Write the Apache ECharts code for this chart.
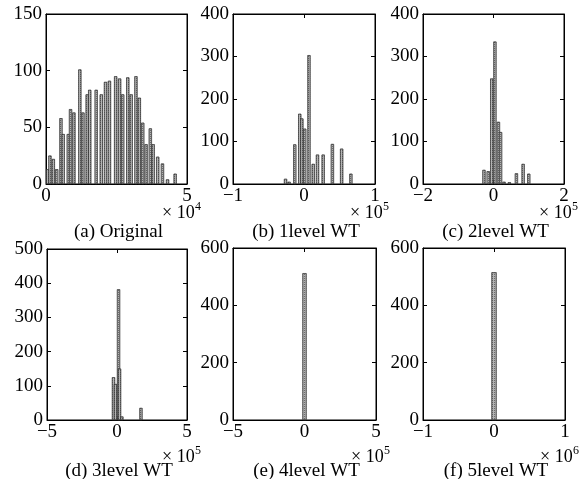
<!DOCTYPE html>
<html><head><meta charset="utf-8">
<script src="https://cdn.jsdelivr.net/npm/echarts@6/dist/echarts.min.js"></script>
<style>html,body{margin:0;padding:0;background:#fff}#c{width:580px;height:479px}</style>
</head><body><div id="c"></div>
<script>
// Histogram data: [bin centre (in units of 10^exp), count]
const histA = [[0.06,13],[0.14,25],[0.26,22],[0.38,13],[0.53,58],[0.61,44],[0.79,44],[0.87,66],[0.99,63],[1.20,101],[1.31,63],[1.46,79],[1.55,83],[1.78,83],[1.96,79],[2.11,90],[2.25,91],[2.47,95],[2.61,93],[2.72,79],[2.90,94],[3.02,79],[3.19,95],[3.31,76],[3.43,54],[3.55,35],[3.70,49],[3.80,35],[3.96,24],[4.13,18],[4.31,4],[4.58,9]];
const histB = [[-0.26,12],[-0.21,5],[-0.13,93],[-0.06,165],[-0.03,154],[0.01,130],[0.07,303],[0.13,47],[0.19,69],[0.27,69],[0.40,94],[0.53,83],[0.66,24]];
const histC = [[-0.27,33],[-0.15,30],[-0.05,248],[0.04,335],[0.14,146],[0.20,122],[0.30,5],[0.45,4],[0.65,25],[0.84,47],[1.00,24]];
const histD = [[-0.25,125],[-0.11,105],[0.11,382],[0.18,150],[0.35,10],[1.71,35]];
const histE = [[0.0,512]];
const histF = [[0.0,515]];

const panelTitles = ['(a) Original','(b) 1level WT','(c) 2level WT','(d) 3level WT','(e) 4level WT','(f) 5level WT'];
const exponents = ['4','5','5','5','5','6'];
const xRanges = [[0,5,5],[-1,1,1],[-2,2,2],[-5,5,5],[-5,5,5],[-1,1,1]];
const yRanges = [[0,150,50],[0,400,100],[0,400,100],[0,500,100],[0,600,200],[0,600,200]];
const datasets = [histA,histB,histC,histD,histE,histF];

const grids = [
  {left:46,top:14,width:141,height:170},
  {left:233,top:14,width:142,height:170},
  {left:423,top:14,width:141,height:170},
  {left:47,top:249,width:140,height:171},
  {left:233,top:248,width:143,height:172},
  {left:423,top:248,width:142,height:172}
];
const barWidths = [3,3,3,3,4,5];
// vertical offsets below plot bottom: [x10 label, superscript, title]
const rowOffsets = [[29,23,48],[37,31,51]];

const font = 'Liberation Serif';
const fmt = v => (v < 0 ? '\u2212' + (-v) : '' + v);

const option = {
  animation:false,
  backgroundColor:'#fff',
  grid: grids.map(g => Object.assign({show:true,borderColor:'#000',borderWidth:1,containLabel:false}, g)),
  xAxis: [], yAxis: [], series: [], graphic: []
};

for (let i = 0; i < 6; i++) {
  const [xmin,xmax,xint] = xRanges[i];
  const [ymin,ymax,yint] = yRanges[i];
  const base = {type:'value', gridIndex:i, splitLine:{show:false},
    axisLine:{show:true,onZero:false,lineStyle:{color:'#000',width:1}},
    axisTick:{show:true,inside:true,length:4,lineStyle:{color:'#000'}}};
  option.xAxis.push(Object.assign({}, base, {min:xmin,max:xmax,interval:xint,position:'bottom',
    axisLabel:{color:'#000',fontFamily:font,fontSize:19,margin:3,formatter:fmt}}));
  option.xAxis.push(Object.assign({}, base, {min:xmin,max:xmax,interval:xint,position:'top',axisLabel:{show:false}}));
  option.yAxis.push(Object.assign({}, base, {min:ymin,max:ymax,interval:yint,position:'left',
    axisLabel:{color:'#000',fontFamily:font,fontSize:19,margin:4}}));
  option.yAxis.push(Object.assign({}, base, {min:ymin,max:ymax,interval:yint,position:'right',axisLabel:{show:false}}));
  option.series.push({
    type:'bar', xAxisIndex:2*i, yAxisIndex:2*i, data:datasets[i], barWidth:barWidths[i],
    itemStyle:{color:'#b4b4b4', borderColor:'#333', borderWidth:0.5,
      decal:{symbol:'rect',symbolSize:1,color:'rgba(0,0,0,0.4)',dashArrayX:[1,1],dashArrayY:[1,1],rotation:0}}
  });
  const g = grids[i];
  const bottom = g.top + g.height;
  const off = rowOffsets[i < 3 ? 0 : 1];
  const right = g.left + g.width;
  option.graphic.push({type:'text', x:g.left + g.width/2 + 2, y:bottom + off[2],
    style:{text:panelTitles[i], font:'19px "' + font + '"', fill:'#000', align:'center', verticalAlign:'middle'}});
  option.graphic.push({type:'text', x:right - 25, y:bottom + off[0],
    style:{text:'\u00d7 10', font:'18px "' + font + '"', fill:'#000', align:'left', verticalAlign:'middle'}});
  option.graphic.push({type:'text', x:right + 8, y:bottom + off[1],
    style:{text:exponents[i], font:'12px "' + font + '"', fill:'#000', align:'left', verticalAlign:'middle'}});
}

echarts.init(document.getElementById('c')).setOption(option);
</script></body></html>
